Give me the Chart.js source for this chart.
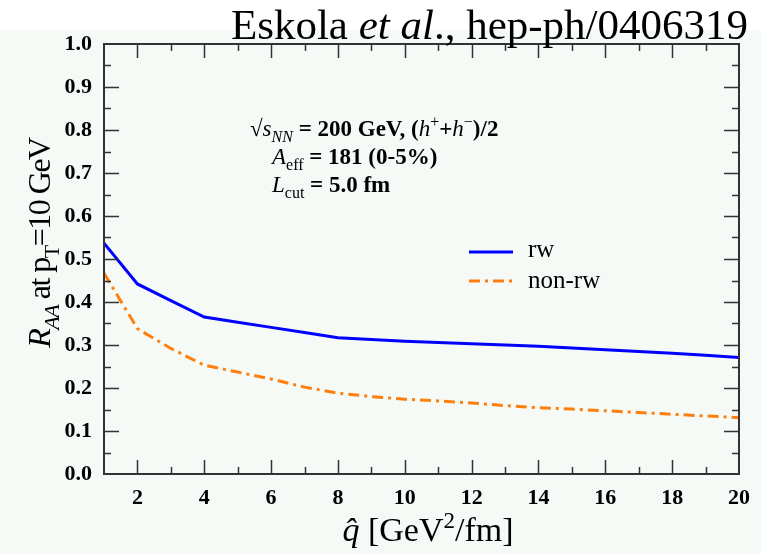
<!DOCTYPE html>
<html>
<head>
<meta charset="utf-8">
<title>R_AA vs qhat</title>
<script src="https://cdn.jsdelivr.net/npm/chart.js@4/dist/chart.umd.min.js"></script>
<style>
  html, body { margin: 0; padding: 0; background: #ffffff; }
  #wrap { width: 761px; height: 554px; }
</style>
</head>
<body>
<div id="wrap"><canvas id="raa" width="761" height="554"></canvas></div>
<script>
// q-hat values (GeV^2/fm) and R_AA at pT = 10 GeV
const qhatValues = [1, 2, 3, 4, 5, 6, 7, 8, 9, 10, 11, 12, 13, 14, 15, 16, 17, 18, 19, 20];
const rwValues = [0.537, 0.442, 0.403, 0.365, 0.353, 0.341, 0.329, 0.317, 0.313, 0.309,
                  0.306, 0.303, 0.300, 0.297, 0.293, 0.289, 0.285, 0.281, 0.276, 0.271];
const nonRwValues = [0.467, 0.338, 0.292, 0.253, 0.237, 0.221, 0.202, 0.188, 0.180, 0.174,
                     0.170, 0.165, 0.159, 0.154, 0.151, 0.147, 0.143, 0.139, 0.135, 0.131];
const xTickValues = [2, 4, 6, 8, 10, 12, 14, 16, 18, 20];
const yTickValues = [0, 0.1, 0.2, 0.3, 0.4, 0.5, 0.6, 0.7, 0.8, 0.9, 1.0];

const SERIF = "'Liberation Serif', 'Times New Roman', serif";
const RW_COLOR = '#0000ff';
const NONRW_COLOR = '#ff7f0e';
const NONRW_DASH = [11, 5, 3, 5];

/**
 * Draw a run of text pieces with italic / sub / superscript support
 * parts: [text, {i, b, sub, sup}]
 */
function drawRich(ctx, parts, x, y, size, align, spacing) {
    const fontFor = (o) => {
        const s = (o.sub || o.sup) ? Math.round(size * 0.68) : size;
        return (o.i ? 'italic ' : '') + (o.b ? 'bold ' : '') + s + 'px ' + SERIF;
    };
    ctx.letterSpacing = (spacing || 0) + 'px';
    let total = 0;
    parts.forEach(([t, o]) => {
        ctx.font = fontFor(o || {});
        total += ctx.measureText(t).width;
    });
    let cx = x;
    if (align === 'center') cx = x - total / 2;
    if (align === 'right') cx = x - total;
    ctx.textAlign = 'left';
    ctx.textBaseline = 'alphabetic';
    parts.forEach(([t, o]) => {
        o = o || {};
        ctx.font = fontFor(o);
        let dy = 0;
        if (o.sub) dy = size * 0.28;
        if (o.sup) dy = -size * 0.38;
        ctx.fillText(t, cx, y + dy);
        cx += ctx.measureText(t).width;
    });
    ctx.letterSpacing = '0px';
}

// light plot background
const backgroundPlugin = {
    id: 'paper',
    beforeDraw(chart) {
        const ctx = chart.ctx;
        ctx.save();
        ctx.fillStyle = '#ffffff';
        ctx.fillRect(0, 0, chart.width, chart.height);
        ctx.fillStyle = '#f5faf7';
        ctx.fillRect(0, 30, chart.width, chart.height - 30);
        ctx.restore();
    }
};

// frame with inward ticks on all four sides
const framePlugin = {
    id: 'frame',
    afterDatasetsDraw(chart) {
        const ctx = chart.ctx;
        const a = chart.chartArea;
        const xs = chart.scales.x;
        const ys = chart.scales.y;
        ctx.save();
        ctx.strokeStyle = '#333333';
        ctx.lineWidth = 2;
        ctx.strokeRect(a.left, a.top, a.right - a.left, a.bottom - a.top);
        ctx.lineWidth = 1.5;
        ctx.beginPath();
        for (let v = 2; v < 20; v++) {
            const px = Math.round(xs.getPixelForValue(v)) + 0.5;
            const len = v % 2 === 0 ? 14 : 7;
            ctx.moveTo(px, a.bottom); ctx.lineTo(px, a.bottom - len);
            ctx.moveTo(px, a.top); ctx.lineTo(px, a.top + len);
        }
        for (let k = 1; k < 20; k++) {
            const py = Math.round(ys.getPixelForValue(k * 0.05)) + 0.5;
            const len = k % 2 === 0 ? 15 : 7;
            ctx.moveTo(a.left, py); ctx.lineTo(a.left + len, py);
            ctx.moveTo(a.right, py); ctx.lineTo(a.right - len, py);
        }
        ctx.stroke();
        ctx.restore();
    }
};

// titles, annotation block and legend
const textPlugin = {
    id: 'labels',
    afterDraw(chart) {
        const ctx = chart.ctx;
        ctx.save();
        ctx.fillStyle = '#000000';

        drawRich(ctx, [['Eskola ', {}], ['et al', { i: true }], ['., hep-ph/0406319', {}]],
                 748, 39, 43, 'right');

        // x axis title
        drawRich(ctx, [['q\u0302', { i: true }], [' [GeV', {}], ['2', { sup: true }], ['/fm]', {}]],
                 428, 541, 34, 'center');

        // y axis title
        ctx.save();
        ctx.translate(39, 243);
        ctx.rotate(-Math.PI / 2);
        drawRich(ctx, [['R', { i: true }], ['AA', { i: true, sub: true }], [' at p', {}],
                       ['T', { sub: true }], ['=10 GeV', {}]], 0, 11, 32, 'center', -1.5);
        ctx.restore();

        // annotation
        drawRich(ctx, [['\u221A', { b: true }], ['s', { i: true }], ['NN', { i: true, sub: true }],
                       [' = 200 GeV, (', { b: true }], ['h', { i: true }], ['+', { sup: true }],
                       ['+', { b: true }], ['h', { i: true }], ['\u2212', { sup: true }], [')/2', { b: true }]],
                 250, 136, 23, 'left');
        drawRich(ctx, [['A', { i: true }], ['eff', { sub: true }], [' = 181 (0-5%)', { b: true }]],
                 272, 164, 23, 'left');
        drawRich(ctx, [['L', { i: true }], ['cut', { sub: true }], [' = 5.0 fm', { b: true }]],
                 272, 192, 23, 'left');

        // legend
        ctx.lineWidth = 3;
        ctx.strokeStyle = RW_COLOR;
        ctx.beginPath(); ctx.moveTo(469, 252); ctx.lineTo(513, 252); ctx.stroke();
        ctx.strokeStyle = NONRW_COLOR;
        ctx.setLineDash(NONRW_DASH);
        ctx.beginPath(); ctx.moveTo(469, 281); ctx.lineTo(513, 281); ctx.stroke();
        ctx.setLineDash([]);
        drawRich(ctx, [['rw', {}]], 528, 257, 25, 'left');
        drawRich(ctx, [['non-rw', {}]], 528, 288, 25, 'left');

        ctx.restore();
    }
};

const ctx = document.getElementById('raa');
new Chart(ctx, {
    type: 'line',
    data: {
        datasets: [
            {
                label: 'rw',
                data: qhatValues.map((q, i) => ({ x: q, y: rwValues[i] })),
                borderColor: RW_COLOR,
                borderWidth: 3,
                pointRadius: 0,
                tension: 0,
                fill: false
            },
            {
                label: 'non-rw',
                data: qhatValues.map((q, i) => ({ x: q, y: nonRwValues[i] })),
                borderColor: NONRW_COLOR,
                borderWidth: 3,
                borderDash: NONRW_DASH,
                pointRadius: 0,
                tension: 0,
                fill: false
            }
        ]
    },
    options: {
        responsive: false,
        animation: false,
        layout: { padding: { top: 44, right: 13, left: 0, bottom: 0 } },
        plugins: {
            legend: { display: false },
            tooltip: { enabled: false }
        },
        scales: {
            x: {
                type: 'linear',
                min: 1,
                max: 20,
                border: { display: false },
                grid: { display: false, drawTicks: false },
                afterBuildTicks: (s) => { s.ticks = xTickValues.map(v => ({ value: v })); },
                afterFit: (s) => { s.height = 80; },
                ticks: {
                    padding: 11,
                    color: '#000000',
                    font: { family: SERIF, size: 22, weight: 'bold' },
                    callback: (v) => String(v)
                }
            },
            y: {
                min: 0,
                max: 1,
                border: { display: false },
                grid: { display: false, drawTicks: false },
                afterBuildTicks: (s) => { s.ticks = yTickValues.map(v => ({ value: v })); },
                afterFit: (s) => { s.width = 104; },
                ticks: {
                    padding: 12,
                    color: '#000000',
                    font: { family: SERIF, size: 22, weight: 'bold' },
                    callback: (v) => Number(v).toFixed(1)
                }
            }
        }
    },
    plugins: [backgroundPlugin, framePlugin, textPlugin]
});
</script>
</body>
</html>
